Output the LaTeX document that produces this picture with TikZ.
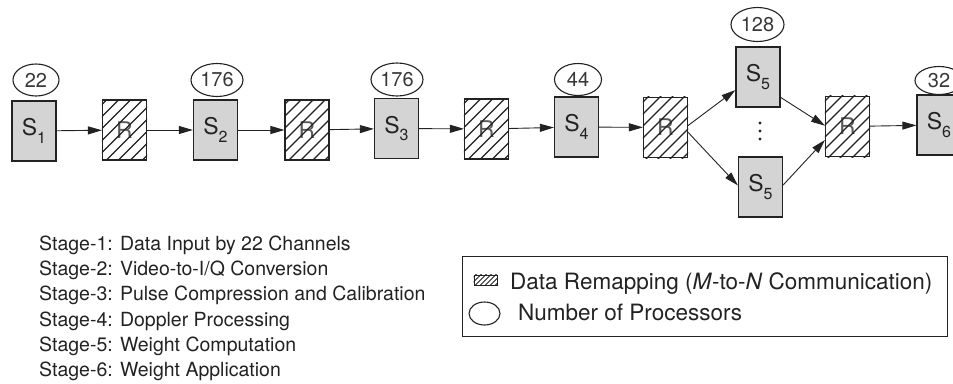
\documentclass[tikz,border=0pt]{standalone}
\usepackage{fontspec}
\setmainfont{TeX Gyre Heros}
\usetikzlibrary{shapes.geometric,arrows.meta,calc}
\definecolor{boxfill}{HTML}{D4D4D4}
\definecolor{ink}{HTML}{222222}
\tikzset{
  stagebox/.style={draw=ink, line width=1.3pt, fill=boxfill, rectangle, minimum width=44pt, minimum height=60pt, inner sep=0pt, font=\fontsize{23}{25}\selectfont, text=ink},
  remapbox/.style={draw=ink, line width=1.1pt, fill=white, rectangle, minimum width=44pt, minimum height=60pt, inner sep=0pt, font=\fontsize{23}{25}\selectfont, text=ink!75},
  count/.style={draw=ink, line width=1.1pt, ellipse, inner sep=0pt, font=\fontsize{20}{22}\selectfont, text=ink!90},
  arr/.style={draw=ink, line width=0.9pt, -{Triangle[length=14pt,width=8pt]}},
  hatchline/.style={draw=ink, line width=1.2pt},
  stagetxt/.style={font=\fontsize{19.5}{22}\selectfont, text=ink, inner sep=0pt},
  legtxt/.style={font=\fontsize{22.5}{24}\selectfont, text=ink, inner sep=0pt},
}
\newcommand{\hatchit}[1]{%
  \begin{scope}
    \clip (#1.south west) rectangle (#1.north east);
    \foreach \k in {-96,-84,...,96} {
      \draw[hatchline] ($(#1.center)+(\k-45,45)$) -- ++(90,-90);
    }
  \end{scope}}
\newcommand{\hatchsmall}[1]{%
  \begin{scope}
    \clip (#1.south west) rectangle (#1.north east);
    \foreach \k in {-20,-15,...,20} {
      \draw[draw=ink, line width=0.8pt] ($(#1.center)+(\k-12,12)$) -- ++(24,-24);
    }
  \end{scope}}
\newcommand{\Sl}[1]{S\raisebox{-0.32em}{\fontsize{16}{16}\selectfont #1}}
\begin{document}
\begin{tikzpicture}[x=1pt,y=-1pt]
\useasboundingbox (0,0) rectangle (953,383);

% main row
\node[stagebox] (s1) at (34,131) {\Sl{1}};
\node[remapbox] (r1) at (124.5,130) {R};
\node[stagebox] (s2) at (215.5,130) {\Sl{2}};
\node[remapbox] (r2) at (307,130) {R};
\node[stagebox] (s3) at (396.5,128.5) {\Sl{3}};
\node[remapbox] (r3) at (486.5,129) {R};
\node[stagebox] (s4) at (576.5,127) {\Sl{4}};
\node[remapbox] (r4) at (665.5,127.5) {R};
\node[stagebox] (s5a) at (758,77) {\Sl{5}};
\node[stagebox] (s5b) at (760.5,187) {\Sl{5}};
\node[remapbox] (r5) at (847.5,126.5) {R};
\node[stagebox] (s6) at (939,125) {\Sl{6}};

\hatchit{r1}
\hatchit{r2}
\hatchit{r3}
\hatchit{r4}
\hatchit{r5}

% processor counts
\node[count, minimum width=46pt, minimum height=32pt] (n1) at (36,80) {22};
\node[count, minimum width=52pt, minimum height=33pt] (n2) at (217,80) {176};
\node[count, minimum width=52pt, minimum height=33pt] (n3) at (397,79.5) {176};
\node[count, minimum width=47pt, minimum height=32pt] (n4) at (578,79.5) {44};
\node[count, minimum width=53pt, minimum height=34pt] (n5) at (757.5,24.5) {128};
\node[count, minimum width=48pt, minimum height=28pt] (n6) at (939,80.5) {32};

% vertical dots
\fill[ink] (760,123) circle (1.7) (760,131) circle (1.7) (760,139) circle (1.7);

% connectors
\draw[arr] (s1) -- (r1);
\draw[arr] (r1) -- (s2);
\draw[arr] (s2) -- (r2);
\draw[arr] (r2) -- (s3);
\draw[arr] (s3) -- (r3);
\draw[arr] (r3) -- (s4);
\draw[arr] (s4) -- (r4);
\draw[arr] (r4.5) -- (s5a.210);
\draw[arr] (r4.-12) -- (s5b.176);
\draw[arr] (s5a.-42) -- (r5.178);
\draw[arr] (s5b.5) -- (r5.211);
\draw[arr] (r5) -- (s6);

% stage list
\node[stagetxt, anchor=base west] (t1) at (39,250) {Stage-1: Data Input by 22 Channels};
\node[stagetxt, anchor=base west] (t2) at (39,275.3) {Stage-2: Video-to-I/Q Conversion};
\node[stagetxt, anchor=base west] (t3) at (39,300.6) {Stage-3: Pulse Compression and Calibration};
\node[stagetxt, anchor=base west] (t4) at (39,326) {Stage-4: Doppler Processing};
\node[stagetxt, anchor=base west] (t5) at (39,351.3) {Stage-5: Weight Computation};
\node[stagetxt, anchor=base west] (t6) at (39,376.6) {Stage-6: Weight Application};

% legend
\node[draw=ink, line width=1.1pt, rectangle, minimum width=485pt, minimum height=80pt, inner sep=0pt, anchor=north west] (leg) at (462,256) {};
\node[draw=ink, line width=0.9pt, rectangle, minimum width=23pt, minimum height=10pt, inner sep=0pt] (lh) at (485.5,280) {};
\hatchsmall{lh}
\node[legtxt, anchor=base west] (l1) at (510,289) {Data Remapping (\textit{M}-to-\textit{N} Communication)};
\node[draw=ink, line width=1.1pt, ellipse, minimum width=31pt, minimum height=23pt, inner sep=0pt] (lc) at (484.5,313.5) {};
\node[legtxt, anchor=base west] (l2) at (518,320) {Number of Processors};
\end{tikzpicture}
\end{document}
